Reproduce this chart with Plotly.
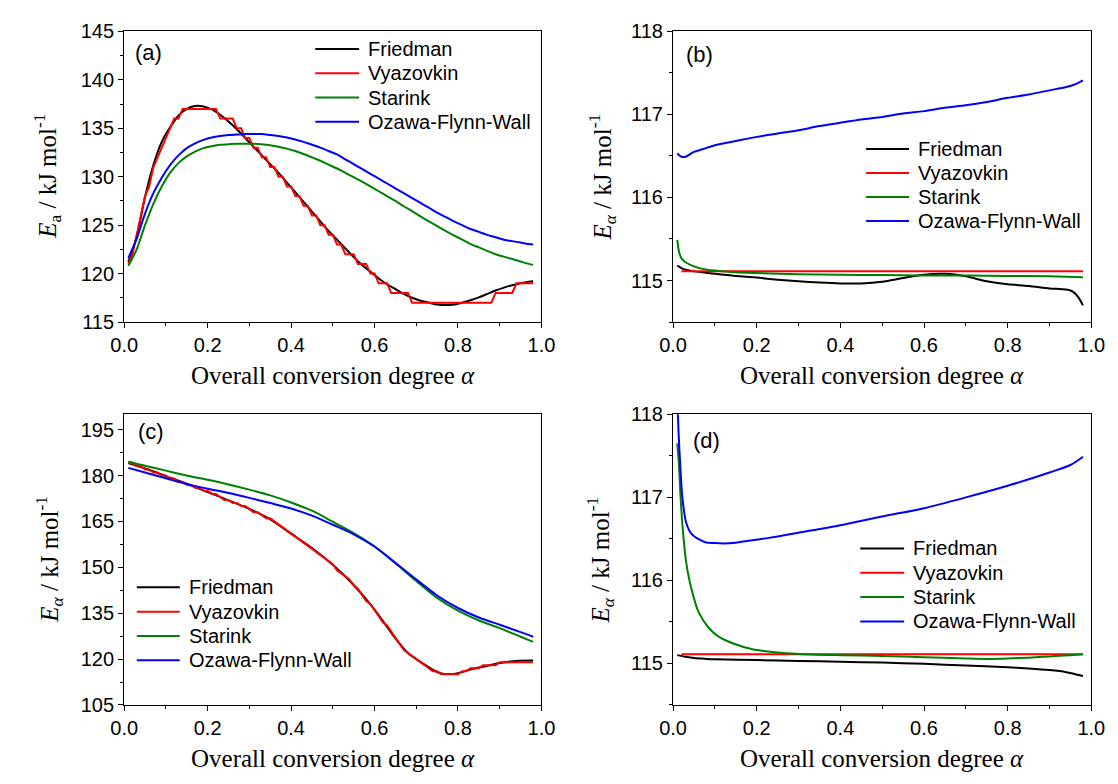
import plotly.graph_objects as go

# ---------------- data ----------------
# (a)
alpha_a = [0.01, 0.03, 0.05, 0.07, 0.09, 0.11, 0.13, 0.15, 0.17, 0.19, 0.21, 0.23, 0.25,
           0.27, 0.29, 0.31, 0.33, 0.35, 0.37, 0.39, 0.41, 0.43, 0.45, 0.47, 0.49, 0.51,
           0.53, 0.55, 0.57, 0.59, 0.61, 0.63, 0.65, 0.67, 0.69, 0.71, 0.73, 0.75, 0.77,
           0.79, 0.81, 0.83, 0.85, 0.87, 0.89, 0.91, 0.93, 0.95, 0.97, 0.98]
friedman_a = [121.2, 123.8, 127.9, 131.2, 133.6, 135.1, 136.3, 137.0, 137.3, 137.25, 136.95,
              136.4, 135.7, 134.9, 134.0, 133.1, 132.2, 131.3, 130.4, 129.4, 128.4, 127.4,
              126.4, 125.4, 124.4, 123.5, 122.6, 121.7, 120.9, 120.2, 119.5, 118.9, 118.4,
              117.9, 117.5, 117.2, 117.0, 116.8, 116.75, 116.8, 117.0, 117.25, 117.55, 117.9,
              118.25, 118.55, 118.8, 119.0, 119.15, 119.2]
starink_a = [120.8, 122.5, 125.0, 127.2, 129.0, 130.4, 131.4, 132.1, 132.6, 132.95, 133.15,
             133.3, 133.35, 133.4, 133.4, 133.4, 133.35, 133.25, 133.1, 132.9, 132.65, 132.35,
             132.0, 131.65, 131.25, 130.85, 130.4, 129.95, 129.5, 129.0, 128.5, 128.0, 127.5,
             126.95, 126.45, 125.9, 125.4, 124.9, 124.4, 123.95, 123.5, 123.05, 122.7, 122.35,
             122.0, 121.75, 121.5, 121.25, 121.0, 120.9]
ofw_a = [121.6, 123.6, 126.2, 128.3, 129.9, 131.2, 132.2, 132.95, 133.45, 133.8, 134.05,
         134.2, 134.3, 134.35, 134.4, 134.4, 134.4, 134.3, 134.2, 134.05, 133.85, 133.6,
         133.3, 133.0, 132.65, 132.3, 131.8, 131.3, 130.8, 130.3, 129.8, 129.3, 128.8,
         128.3, 127.8, 127.3, 126.8, 126.3, 125.85, 125.4, 125.0, 124.6, 124.3, 124.0,
         123.75, 123.5, 123.35, 123.2, 123.05, 123.0]
alpha_vyaz_a = [round(0.01 * k, 2) for k in range(1, 99)]
vyazovkin_a = [121, 122, 124, 126, 128, 129, 131, 132, 133, 134,
               135, 136, 136, 137, 137, 137, 137, 137, 137, 137,
               137, 137, 136, 136, 136, 136, 135, 135, 134, 134,
               133, 133, 132, 132, 131, 131, 130, 130, 129, 129,
               128, 128, 127, 127, 126, 126, 125, 125, 124, 124,
               123, 123, 122, 122, 122, 121, 121, 121, 120, 120,
               119, 119, 119, 118, 118, 118, 118, 118, 117, 117,
               117, 117, 117, 117, 117, 117, 117, 117, 117, 117,
               117, 117, 117, 117, 117, 117, 117, 117, 118, 118,
               118, 118, 118, 119, 119, 119, 119, 119]

# (b)
alpha_fr_b = [0.01, 0.02, 0.03, 0.05, 0.07, 0.10, 0.15, 0.20, 0.25, 0.30, 0.35, 0.40, 0.45,
              0.50, 0.55, 0.60, 0.65, 0.70, 0.75, 0.80, 0.85, 0.90, 0.93, 0.95, 0.96, 0.97, 0.98]
friedman_b = [115.18, 115.15, 115.13, 115.11, 115.10, 115.08, 115.055, 115.035, 115.01, 114.99,
              114.975, 114.965, 114.965, 114.985, 115.03, 115.07, 115.08, 115.05, 114.99,
              114.955, 114.935, 114.905, 114.895, 114.88, 114.85, 114.79, 114.70]
alpha_vyaz_b = [0.02, 0.98]
vyazovkin_b = [115.11, 115.11]
alpha_st_b = [0.01, 0.015, 0.02, 0.03, 0.05, 0.07, 0.10, 0.15, 0.20, 0.30, 0.40, 0.50, 0.60,
              0.70, 0.80, 0.90, 0.98]
starink_b = [115.49, 115.33, 115.27, 115.22, 115.17, 115.14, 115.12, 115.10, 115.09, 115.075,
             115.07, 115.065, 115.06, 115.06, 115.055, 115.05, 115.04]
alpha_ofw_b = [0.01, 0.02, 0.03, 0.05, 0.07, 0.10, 0.15, 0.20, 0.25, 0.30, 0.35, 0.40, 0.45,
               0.50, 0.55, 0.60, 0.65, 0.70, 0.75, 0.80, 0.85, 0.90, 0.94, 0.96, 0.98]
ofw_b = [116.53, 116.49, 116.49, 116.55, 116.58, 116.63, 116.68, 116.73, 116.77, 116.81,
         116.86, 116.90, 116.94, 116.97, 117.01, 117.04, 117.08, 117.11, 117.15, 117.20,
         117.24, 117.29, 117.33, 117.36, 117.41]

# (c)
alpha_fr_c = [0.01, 0.05, 0.10, 0.15, 0.20, 0.25, 0.30, 0.35, 0.40, 0.45, 0.50, 0.55, 0.60,
              0.65, 0.68, 0.70, 0.72, 0.74, 0.76, 0.78, 0.80, 0.83, 0.86, 0.90, 0.94, 0.98]
friedman_c = [184.1, 182.3, 179.8, 177.3, 174.6, 171.9, 169.1, 165.7, 161.0, 156.3, 150.8,
              144.2, 136.2, 126.8, 122.0, 120.0, 118.2, 116.5, 115.3, 115.1, 115.4, 116.6,
              117.5, 118.7, 119.4, 119.5]
alpha_vyaz_c = [round(0.01 * k, 2) for k in range(1, 99)]
vyazovkin_c = [184, 184, 183, 183, 182, 182, 181, 181, 180, 180,
               179, 179, 178, 178, 177, 177, 176, 176, 175, 175,
               174, 174, 173, 172, 172, 171, 171, 170, 170, 169,
               168, 168, 167, 166, 166, 165, 164, 163, 162, 161,
               160, 159, 158, 157, 156, 155, 154, 153, 152, 151,
               149, 148, 147, 146, 144, 143, 141, 139, 138, 136,
               134, 132, 131, 129, 127, 125, 123, 122, 121, 120,
               119, 118, 117, 116, 116, 115, 115, 115, 115, 115,
               116, 116, 117, 117, 117, 118, 118, 118, 118, 119,
               119, 119, 119, 119, 119, 119, 119, 119]
alpha_c = [0.01, 0.05, 0.10, 0.15, 0.20, 0.25, 0.30, 0.35, 0.40, 0.45, 0.50, 0.55, 0.60,
           0.65, 0.70, 0.75, 0.80, 0.85, 0.90, 0.95, 0.98]
starink_c = [184.6, 183.2, 181.6, 180.0, 178.6, 177.1, 175.4, 173.5, 171.2, 168.5, 164.9,
             161.2, 156.8, 151.3, 145.5, 140.0, 135.8, 132.6, 130.1, 127.3, 125.6]
ofw_c = [182.5, 181.0, 179.1, 177.2, 175.7, 174.3, 172.7, 171.0, 169.2, 166.9, 163.9,
         160.8, 156.8, 151.5, 146.0, 140.8, 136.7, 133.6, 131.2, 128.8, 127.3]

# (d)
alpha_fr_d = [0.01, 0.03, 0.05, 0.08, 0.10, 0.20, 0.30, 0.40, 0.50, 0.60, 0.70, 0.80, 0.85,
              0.90, 0.94, 0.98]
friedman_d = [115.10, 115.08, 115.065, 115.055, 115.05, 115.04, 115.03, 115.02, 115.01,
              114.995, 114.975, 114.955, 114.94, 114.92, 114.895, 114.85]
alpha_vyaz_d = [0.02, 0.98]
vyazovkin_d = [115.11, 115.11]
alpha_st_d = [0.01, 0.014, 0.018, 0.023, 0.031, 0.04, 0.048, 0.06, 0.085, 0.11, 0.144, 0.19,
              0.244, 0.30, 0.40, 0.50, 0.60, 0.70, 0.75, 0.80, 0.85, 0.90, 0.95, 0.98]
starink_d = [117.65, 117.40, 117.0, 116.63, 116.23, 115.98, 115.82, 115.63, 115.43, 115.32,
             115.24, 115.17, 115.135, 115.115, 115.10, 115.09, 115.075, 115.06, 115.055,
             115.06, 115.07, 115.085, 115.10, 115.11]
alpha_ofw_d = [0.01, 0.013, 0.017, 0.022, 0.031, 0.04, 0.048, 0.06, 0.077, 0.10, 0.12, 0.15,
               0.20, 0.25, 0.30, 0.40, 0.50, 0.60, 0.70, 0.80, 0.90, 0.95, 0.98]
ofw_d = [118.2, 117.79, 117.40, 117.01, 116.70, 116.59, 116.54, 116.50, 116.46, 116.45,
         116.445, 116.455, 116.49, 116.53, 116.575, 116.665, 116.77, 116.87, 117.0, 117.14,
         117.30, 117.39, 117.49]

method_names = ["Friedman", "Vyazovkin", "Starink", "Ozawa-Flynn-Wall"]
method_colors = ["#000000", "#ff0000", "#008000", "#0000ff"]

panels = [
    dict(tag="(a)", sub="a",
         series=[(alpha_a, friedman_a, "spline"), (alpha_vyaz_a, vyazovkin_a, "linear"),
                 (alpha_a, starink_a, "spline"), (alpha_a, ofw_a, "spline")],
         yrange=[115, 145], dtick=5, tick0=115, minor=2.5),
    dict(tag="(b)", sub="<i>α</i>",
         series=[(alpha_fr_b, friedman_b, "spline"), (alpha_vyaz_b, vyazovkin_b, "linear"),
                 (alpha_st_b, starink_b, "spline"), (alpha_ofw_b, ofw_b, "spline")],
         yrange=[114.5, 118], dtick=1, tick0=115, minor=0.5),
    dict(tag="(c)", sub="<i>α</i>",
         series=[(alpha_fr_c, friedman_c, "spline"), (alpha_vyaz_c, vyazovkin_c, "linear"),
                 (alpha_c, starink_c, "spline"), (alpha_c, ofw_c, "spline")],
         yrange=[105, 200], dtick=15, tick0=105, minor=7.5),
    dict(tag="(d)", sub="<i>α</i>",
         series=[(alpha_fr_d, friedman_d, "spline"), (alpha_vyaz_d, vyazovkin_d, "linear"),
                 (alpha_st_d, starink_d, "spline"), (alpha_ofw_d, ofw_d, "spline")],
         yrange=[114.5, 118], dtick=1, tick0=115, minor=0.5),
]

# ---------------- layout geometry (pixels of a 1118 x 784 page) ----------------
W, H = 1118, 784
SANS = "Liberation Sans, Arial, sans-serif"
SERIF = "Liberation Serif, Times New Roman, serif"

# plot frames: left, right, top, bottom
boxes = [(113, 541, 21, 320), (676, 1105, 21, 320), (113, 541, 415, 714), (676, 1105, 415, 714)]
# legend: sample start, sample end, text start, first row centre, row pitch
legends = [(309, 354, 361, 39, 25), (874, 918, 925, 142, 24.7),
           (126, 170, 177, 593, 25), (868, 913, 920, 553, 25)]
tag_pos = [(122, 43), (687, 45), (125, 433), (694, 442)]
ytitle_x = [34, 603, 36, 601]

fig = go.Figure()
layout = dict(width=W, height=H, margin=dict(l=0, r=0, t=0, b=0),
              paper_bgcolor="white", plot_bgcolor="white", showlegend=False)
annotations = []
shapes = []

for i, (p, box) in enumerate(zip(panels, boxes)):
    n = i + 1
    sx = "" if n == 1 else str(n)
    x0, x1, y0, y1 = box
    xdom = [x0 / W, x1 / W]
    ydom = [1 - y1 / H, 1 - y0 / H]

    for (xs, ys, shape), name, color in zip(p["series"], method_names, method_colors):
        line = dict(color=color, width=2, shape=shape)
        if shape == "spline":
            line["smoothing"] = 0.8
        fig.add_trace(go.Scatter(x=xs, y=ys, mode="lines", name=name, line=line,
                                 xaxis=f"x{sx}", yaxis=f"y{sx}"))

    common = dict(showgrid=False, zeroline=False, color="black")
    layout[f"xaxis{sx}"] = dict(
        domain=xdom, anchor=f"y{sx}", range=[0, 1], tick0=0, dtick=0.2, tickformat=".1f",
        ticks="outside", ticklen=5, tickwidth=1.3, showline=True, linewidth=1.3,
        linecolor="black", mirror=True, tickfont=dict(family=SANS, size=20, color="black"),
        minor=dict(dtick=0.1, ticks="outside", ticklen=3, tickwidth=1.3), **common)
    layout[f"yaxis{sx}"] = dict(
        domain=ydom, anchor=f"x{sx}", range=p["yrange"], tick0=p["tick0"], dtick=p["dtick"],
        ticks="outside", ticklen=5, tickwidth=1.3, showline=True, linewidth=1.3,
        linecolor="black", mirror=True, tickfont=dict(family=SANS, size=20, color="black"),
        minor=dict(tick0=p["tick0"], dtick=p["minor"], ticks="outside", ticklen=3, tickwidth=1.3),
        **common)
    # inward ticks on the top and right frame edges
    layout[f"xaxis{n + 4}"] = dict(
        overlaying=f"x{sx}", anchor=f"y{sx}", side="top", range=[0, 1], tick0=0, dtick=0.2,
        ticks="inside", ticklen=4, tickwidth=1.3, showticklabels=False, showline=False,
        minor=dict(dtick=0.1, ticks="inside", ticklen=2.5, tickwidth=1.3), **common)
    layout[f"yaxis{n + 4}"] = dict(
        overlaying=f"y{sx}", anchor=f"x{sx}", side="right", range=p["yrange"],
        tick0=p["tick0"], dtick=p["dtick"], ticks="inside", ticklen=4, tickwidth=1.3,
        showticklabels=False, showline=False,
        minor=dict(tick0=p["tick0"], dtick=p["minor"], ticks="inside", ticklen=2.5, tickwidth=1.3),
        **common)

    # legend block: coloured sample line + method name per row
    lx0, lx1, ltx, ly, pitch = legends[i]
    for k, (name, color) in enumerate(zip(method_names, method_colors)):
        yy = 1 - (ly + k * pitch) / H
        shapes.append(dict(type="line", xref="paper", yref="paper", x0=lx0 / W, x1=lx1 / W,
                           y0=yy, y1=yy, line=dict(color=color, width=2)))
        annotations.append(dict(x=ltx / W, y=yy, xref="paper", yref="paper", xanchor="left",
                                yanchor="middle", showarrow=False, text=name,
                                font=dict(family=SANS, size=20, color="black")))

    tx, ty = tag_pos[i]
    annotations.append(dict(x=tx / W, y=1 - ty / H, xref="paper", yref="paper",
                            xanchor="left", yanchor="middle", showarrow=False, text=p["tag"],
                            font=dict(family=SANS, size=22, color="black")))
    annotations.append(dict(x=(x0 + x1) / 2 / W, y=1 - (y1 + 55) / H, xref="paper",
                            yref="paper", xanchor="center", yanchor="middle", showarrow=False,
                            text="Overall conversion degree <i>α</i>",
                            font=dict(family=SERIF, size=25, color="black")))
    annotations.append(dict(x=ytitle_x[i] / W, y=1 - (y0 + y1) / 2 / H, xref="paper",
                            yref="paper", xanchor="center", yanchor="middle", showarrow=False,
                            textangle=-90,
                            text=f"<i>E</i><sub>{p['sub']}</sub> / kJ mol<sup>-1</sup>",
                            font=dict(family=SERIF, size=25, color="black")))

layout["annotations"] = annotations
layout["shapes"] = shapes
fig.update_layout(**layout)
fig.write_html("out.html")
